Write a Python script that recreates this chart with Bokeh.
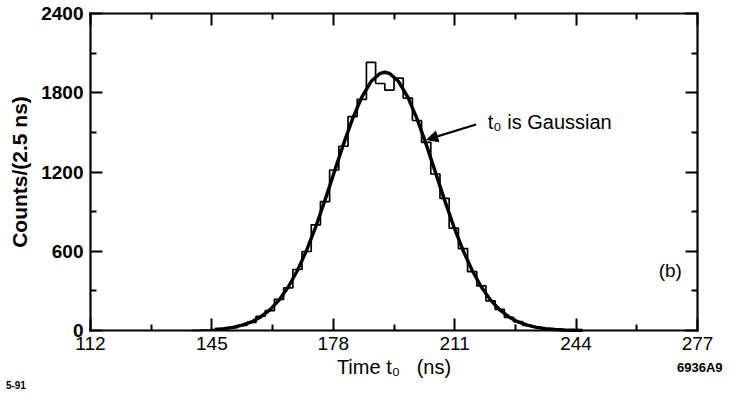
from bokeh.plotting import figure
from bokeh.models import Range1d, FixedTicker, LinearAxis, Label, Arrow, NormalHead
from bokeh.embed import file_html
from bokeh.resources import INLINE

# ---- data ----
bin_width = 2.5
bin_left = [139.5, 142.0, 144.5, 147.0, 149.5, 152.0, 154.5, 157.0, 159.5, 162.0,
            164.5, 167.0, 169.5, 172.0, 174.5, 177.0, 179.5, 182.0, 184.5, 187.0,
            189.5, 192.0, 194.5, 197.0, 199.5, 202.0, 204.5, 207.0, 209.5, 212.0,
            214.5, 217.0, 219.5, 222.0, 224.5, 227.0, 229.5, 232.0, 234.5, 237.0,
            239.5, 242.0]
bin_counts = [1, 3, 7, 12, 22, 38, 62, 108, 150, 236,
              322, 462, 598, 800, 975, 1215, 1395, 1620, 1750, 2030,
              1870, 1820, 1910, 1760, 1590, 1425, 1185, 1000, 775, 620,
              445, 338, 224, 160, 100, 67, 38, 25, 13, 8,
              4, 2]

curve_t = [145.75, 148.25, 150.75, 153.25, 155.75, 158.25, 160.75,
           163.25, 165.75, 168.25, 170.75, 173.25, 175.75, 178.25, 180.75, 183.25,
           185.75, 188.25, 190.75, 192.0, 193.25, 195.75, 198.25, 200.75, 203.25,
           205.75, 208.25, 210.75, 213.25, 215.75, 218.25, 220.75, 223.25, 225.75,
           228.25, 230.75, 233.25, 235.75, 238.25, 240.75, 243.25, 245.75]
curve_counts = [8, 14, 24, 40, 65, 103, 156,
                230, 329, 454, 608, 787, 987, 1199, 1409, 1604,
                1767, 1885, 1947, 1955, 1947, 1885, 1767, 1604, 1409,
                1199, 987, 787, 608, 454, 329, 230, 156, 103,
                65, 40, 24, 14, 8, 4, 2, 1]

x_ticks = [112, 145, 178, 211, 244, 277]
x_minor = [128.5, 161.5, 194.5, 227.5, 260.5]
y_ticks = [0, 600, 1200, 1800, 2400]
y_minor = [300, 900, 1500, 2100]

X0, X1 = x_ticks[0], x_ticks[-1]
Y0, Y1 = y_ticks[0], y_ticks[-1]

FONT = "Liberation Sans"

# page layout: the data box occupies px 90..697 horizontally and 13..330 from the top
W, H = 729, 401
BOX_L, BOX_R, BOX_T, BOX_B = 90, 697, 13, 330
kx = (BOX_R - BOX_L) / (X1 - X0)
ky = (BOX_B - BOX_T) / (Y1 - Y0)
xr = Range1d(X0 - BOX_L / kx, X1 + (W - BOX_R) / kx)
yr = Range1d(Y0 - (H - BOX_B) / ky, Y1 + BOX_T / ky)

p = figure(width=W, height=H, output_backend="svg", toolbar_location=None,
           x_range=xr, y_range=yr, min_border=0,
           min_border_left=0, min_border_right=0, min_border_top=0, min_border_bottom=0,
           background_fill_color="white", border_fill_color="white")
p.grid.visible = False
p.outline_line_color = None

# histogram as a step outline
sx, sy = [bin_left[0]], [0]
for l, c in zip(bin_left, bin_counts):
    sx += [l, l + bin_width]
    sy += [c, c]
sx.append(bin_left[-1] + bin_width)
sy.append(0)
p.line(sx, sy, line_color="black", line_width=1.7)

# Gaussian curve
p.line(curve_t, curve_counts, line_color="black", line_width=3.4, line_join="round")

def style(ax, ticks, labels=True):
    ax.axis_line_color = "black"
    ax.axis_line_width = 2.2
    ax.axis_line_cap = "square"
    ax.major_tick_in = 12
    ax.major_tick_out = 0
    ax.minor_tick_in = 6
    ax.minor_tick_out = 0
    ax.major_tick_line_width = 2
    ax.minor_tick_line_width = 2
    ax.major_tick_line_color = "black"
    ax.minor_tick_line_color = "black"
    ax.major_label_text_color = "black"
    ax.axis_label_text_color = "black"
    if not labels:
        ax.major_label_overrides = {t: "" for t in ticks}
        ax.major_label_standoff = 0

xt = FixedTicker(ticks=x_ticks, minor_ticks=x_minor)
yt = FixedTicker(ticks=y_ticks, minor_ticks=y_minor)

xa = p.xaxis[0]
xa.ticker = xt
xa.fixed_location = Y0
xa.bounds = (X0, X1)
style(xa, x_ticks)
xa.major_label_text_font = FONT
xa.major_label_text_font_size = "19px"
xa.major_label_standoff = 6
xa.axis_label = "Time t\u2080\u00a0\u00a0\u00a0(ns)"
xa.axis_label_text_font = FONT
xa.axis_label_text_font_size = "20px"
xa.axis_label_text_font_style = "normal"
xa.axis_label_standoff = 3

ya = p.yaxis[0]
ya.ticker = yt
ya.fixed_location = X0
ya.bounds = (Y0, Y1)
style(ya, y_ticks)
ya.major_label_text_font = FONT
ya.major_label_text_font_size = "19px"
ya.major_label_text_font_style = "bold"
ya.major_label_standoff = 7
ya.axis_label = "Counts/(2.5 ns)"
ya.axis_label_text_font = FONT
ya.axis_label_text_font_size = "21px"
ya.axis_label_text_font_style = "bold"
ya.axis_label_standoff = 7

top = LinearAxis(ticker=xt, fixed_location=Y1, bounds=(X0, X1))
style(top, x_ticks, labels=False)
p.add_layout(top, "above")
right = LinearAxis(ticker=yt, fixed_location=X1, bounds=(Y0, Y1))
style(right, y_ticks, labels=False)
p.add_layout(right, "right")

# annotation
p.add_layout(Arrow(end=NormalHead(size=11, fill_color="black", line_color="black"),
                   x_start=216.8, y_start=1560, x_end=203.4, y_end=1445,
                   line_color="black", line_width=2.2))
p.add_layout(Label(x=220.0, y=1575, text="t\u2080 is Gaussian", text_font=FONT,
                   text_font_size="20px", text_baseline="middle", text_color="black"))
p.add_layout(Label(x=269.6, y=454, text="(b)", text_font=FONT, text_font_size="19px",
                   text_align="center", text_baseline="middle", text_color="black"))
p.add_layout(Label(x=89.0, y=-416, text="5-91", text_font=FONT, text_font_size="10px",
                   text_font_style="bold", text_baseline="middle", text_color="black"))
p.add_layout(Label(x=283.8, y=-280, text="6936A9", text_font=FONT, text_font_size="13px",
                   text_font_style="bold", text_align="right", text_baseline="middle",
                   text_color="black"))

open("out.html", "w").write(file_html(p, INLINE))
